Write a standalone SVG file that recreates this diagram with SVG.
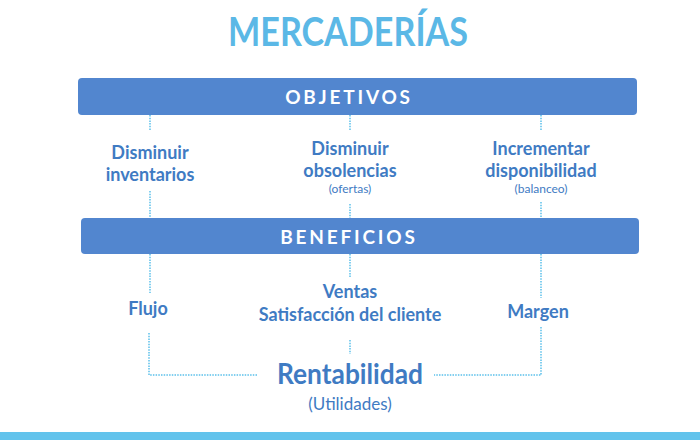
<svg xmlns="http://www.w3.org/2000/svg" width="700" height="440" viewBox="0 0 700 440">
<style>
.bar{fill:#5286cf}
.bartxt{font-family:Lato,"Open Sans",sans-serif;font-weight:700;font-size:19px;fill:#ffffff;letter-spacing:2.8px;text-anchor:middle}
.lbl{font-family:Lato,"Open Sans",sans-serif;font-weight:700;font-size:18px;fill:#3f7bc3;text-anchor:middle}
.sub{font-family:Lato,"Open Sans",sans-serif;font-weight:400;font-size:12px;fill:#3f7bc3;text-anchor:middle}
.dot{stroke:#5bc0ea;stroke-width:1.5;stroke-dasharray:1.5 1.2;fill:none}
</style>
<rect width="700" height="440" fill="#ffffff"/>
<g id="title">
<text x="348" y="46" font-family="Lato,'Open Sans',sans-serif" font-weight="700" font-size="40" fill="#5bb8e6" text-anchor="middle" textLength="240" lengthAdjust="spacingAndGlyphs">MERCADERÍAS</text>
</g>
<g id="connectors">
<path class="dot" d="M150 115 V131"/>
<path class="dot" d="M350 115 V130"/>
<path class="dot" d="M541 115 V130"/>
<path class="dot" d="M150 191 V218"/>
<path class="dot" d="M350 204 V218"/>
<path class="dot" d="M541 202 V218"/>
<path class="dot" d="M150 254 V293"/>
<path class="dot" d="M350 254 V277"/>
<path class="dot" d="M541 254 V298"/>
<path class="dot" d="M149 333 V375 H257"/>
<path class="dot" d="M350 340 V354"/>
<path class="dot" d="M541 327 V375 H434"/>
</g>
<g id="objetivos">
<rect class="bar" x="78" y="78" width="559" height="37" rx="4"/>
<text class="bartxt" x="349" y="104">OBJETIVOS</text>
</g>
<g id="disminuir-inventarios">
<text class="lbl" x="150" y="159">Disminuir</text>
<text class="lbl" x="150" y="181">inventarios</text>
</g>
<g id="disminuir-obsolencias">
<text class="lbl" x="350" y="155">Disminuir</text>
<text class="lbl" x="350" y="177">obsolencias</text>
<text class="sub" x="350" y="193">(ofertas)</text>
</g>
<g id="incrementar-disponibilidad">
<text class="lbl" x="541" y="155">Incrementar</text>
<text class="lbl" x="541" y="177">disponibilidad</text>
<text class="sub" x="541" y="193">(balanceo)</text>
</g>
<g id="beneficios">
<rect class="bar" x="81" y="218" width="558" height="36" rx="4"/>
<text class="bartxt" x="349" y="244">BENEFICIOS</text>
</g>
<g id="flujo">
<text class="lbl" x="148" y="315">Flujo</text>
</g>
<g id="ventas">
<text class="lbl" x="350" y="298">Ventas</text>
<text class="lbl" x="350" y="321">Satisfacción del cliente</text>
</g>
<g id="margen">
<text class="lbl" x="538" y="318">Margen</text>
</g>
<g id="rentabilidad">
<text x="350" y="384" font-family="Lato,'Open Sans',sans-serif" font-weight="700" font-size="28" fill="#3f7bc3" text-anchor="middle" textLength="146" lengthAdjust="spacingAndGlyphs">Rentabilidad</text>
<text x="350" y="410" font-family="Lato,'Open Sans',sans-serif" font-weight="400" font-size="17" fill="#3f7bc3" text-anchor="middle">(Utilidades)</text>
</g>
<rect id="footer" x="0" y="432" width="700" height="8" fill="#62c3ec"/>
</svg>
